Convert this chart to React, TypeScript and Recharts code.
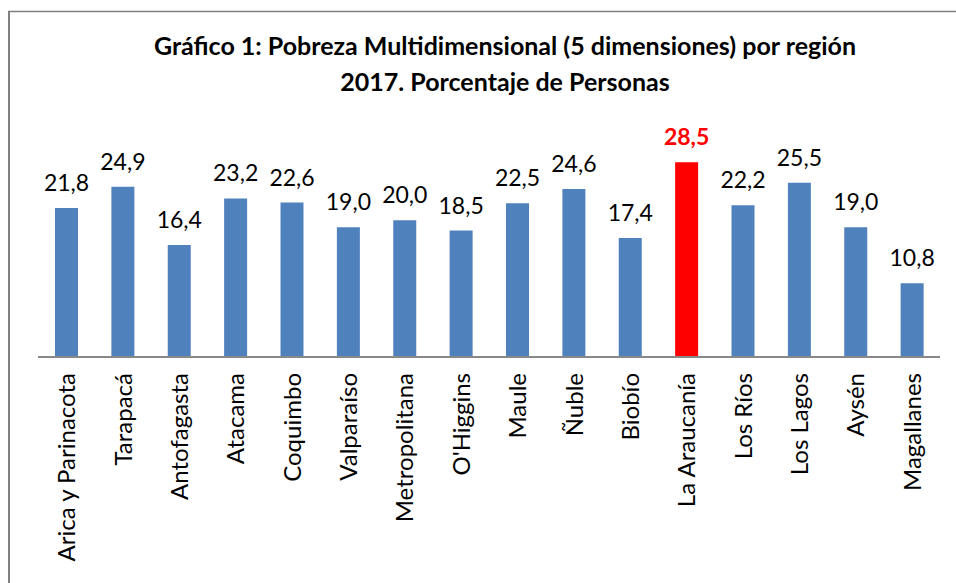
import React from 'react';
import { BarChart, Bar, XAxis, YAxis, Cell, LabelList } from 'recharts';

const regions = [
  'Arica y Parinacota', 'Tarapacá', 'Antofagasta', 'Atacama', 'Coquimbo', 'Valparaíso',
  'Metropolitana', "O'Higgins", 'Maule', 'Ñuble', 'Biobío', 'La Araucanía',
  'Los Ríos', 'Los Lagos', 'Aysén', 'Magallanes',
];
const pobreza = [21.8, 24.9, 16.4, 23.2, 22.6, 19.0, 20.0, 18.5, 22.5, 24.6, 17.4, 28.5, 22.2, 25.5, 19.0, 10.8];
const highlight = 'La Araucanía';

const data = regions.map((region, i) => ({ region, value: pobreza[i] }));

const FONT = 'Lato, "Open Sans", sans-serif';
const BLUE = '#4F81BD';
const RED = '#FF0000';
const FRAME = '#808080';

const fmt = (v: number) => v.toFixed(1).replace('.', ',');

const RegionTick = (props: any) => {
  const { x, y, payload } = props;
  return (
    <text
      transform={`translate(${x + 9},${y + 8}) rotate(-90)`}
      textAnchor="end"
      fontFamily={FONT}
      fontSize={24}
      fill="#000"
    >
      {payload.value}
    </text>
  );
};

const ValueLabel = (props: any) => {
  const { x, y, width, index, value } = props;
  const hot = regions[index] === highlight;
  return (
    <text
      x={x + width / 2}
      y={y - 17}
      textAnchor="middle"
      fontFamily={FONT}
      fontSize={23}
      fontWeight={hot ? 700 : 400}
      fill={hot ? RED : '#000'}
    >
      {fmt(value)}
    </text>
  );
};

export default function App() {
  return (
    <div style={{ position: 'fixed', left: 0, top: 0, width: 956, height: 583, overflow: 'hidden', background: '#fff' }}>
      <div
        style={{
          position: 'absolute', left: 5, top: 27, width: 1000, textAlign: 'center',
          fontFamily: FONT, fontWeight: 700, fontSize: 25, lineHeight: '36px', color: '#000',
        }}
      >
        Gráfico 1: Pobreza Multidimensional (5 dimensiones) por región
        <br />
        2017. Porcentaje de Personas
      </div>
      <div style={{ position: 'absolute', left: 0, top: 0 }}>
        <BarChart
          width={956}
          height={583}
          data={data}
          margin={{ top: 152, right: 16, bottom: 0, left: 38 }}
          barSize={23}
        >
          <XAxis
            dataKey="region"
            interval={0}
            height={226}
            tickLine={false}
            axisLine={{ stroke: '#888', strokeWidth: 2 }}
            tick={<RegionTick />}
          />
          <YAxis hide domain={[0, 30]} />
          <Bar dataKey="value" isAnimationActive={false}>
            {data.map((d) => (
              <Cell key={d.region} fill={d.region === highlight ? RED : BLUE} />
            ))}
            <LabelList dataKey="value" content={<ValueLabel />} />
          </Bar>
        </BarChart>
      </div>
      {/* chart frame: only the top and left edges fall inside the page */}
      <svg width={956} height={583} style={{ position: 'absolute', left: 0, top: 0, pointerEvents: 'none' }}>
        <line x1={8} y1={11.5} x2={956} y2={11.5} stroke={FRAME} strokeWidth={1.5} />
        <line x1={9} y1={11} x2={9} y2={583} stroke={FRAME} strokeWidth={2} />
      </svg>
    </div>
  );
}
